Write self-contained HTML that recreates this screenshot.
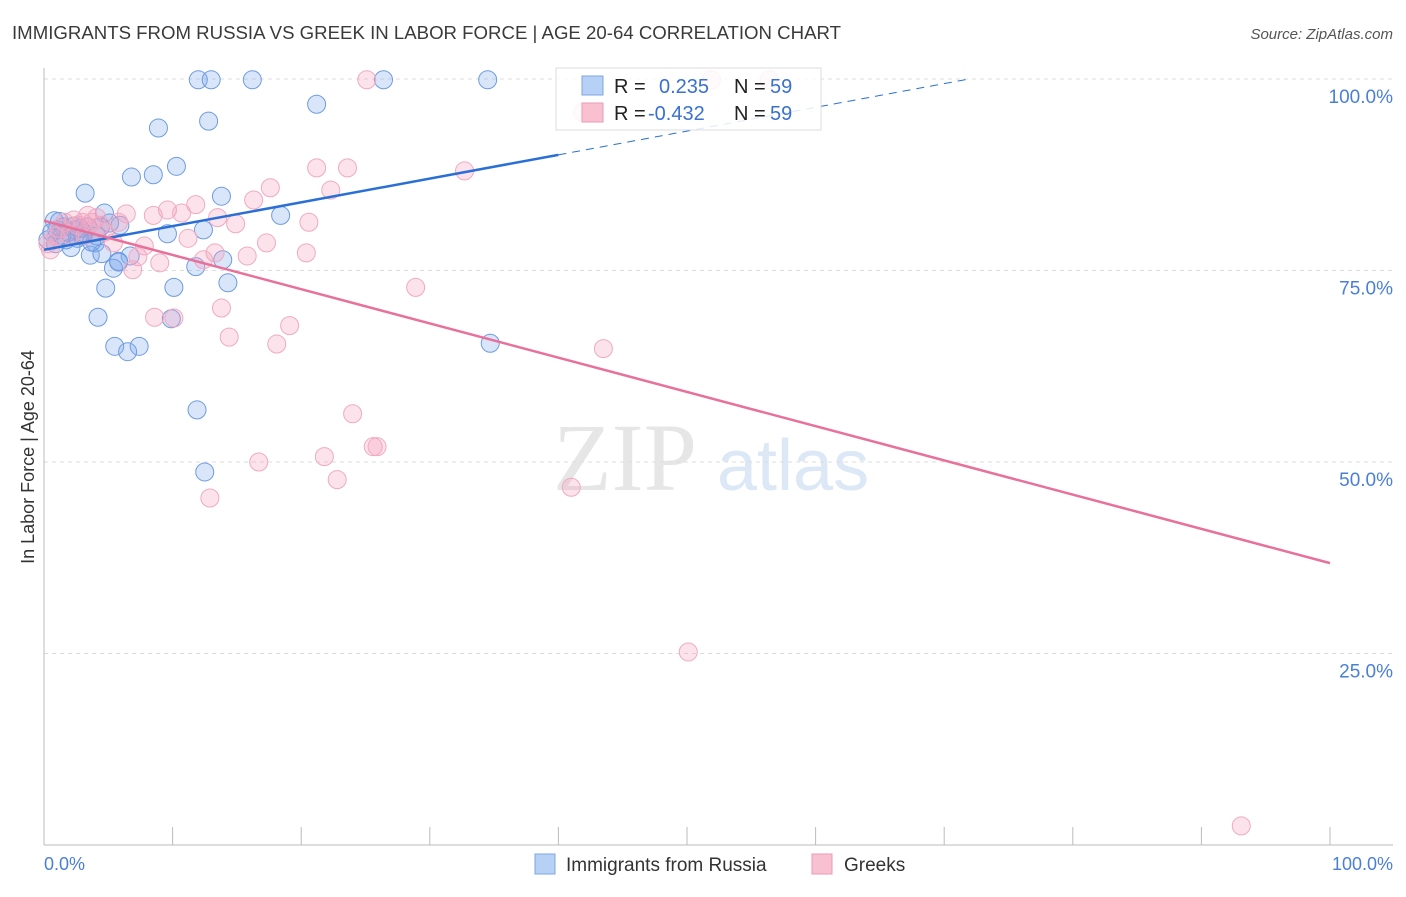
<!DOCTYPE html>
<html><head><meta charset="utf-8"><style>
body{margin:0;background:#fff;font-family:"Liberation Sans",sans-serif}
svg text{font-family:"Liberation Sans",sans-serif}
</style></head><body>
<svg id="chart" width="1406" height="892" viewBox="0 0 1406 892">
<text x="12" y="39" font-size="18" fill="#3a3a3a" textLength="829" lengthAdjust="spacingAndGlyphs">IMMIGRANTS FROM RUSSIA VS GREEK IN LABOR FORCE | AGE 20-64 CORRELATION CHART</text>
<text x="1393" y="39" font-size="15" fill="#555" text-anchor="end" font-style="italic">Source: ZipAtlas.com</text>
<g>
<text x="553" y="490" font-size="96" fill="#e6e6e6" font-family="Liberation Serif" style="font-family:'Liberation Serif',serif">ZIP</text>
<text x="717" y="490" font-size="72" fill="#dce8f6">atlas</text>
</g>
<g id="grid"></g>
<g id="axes"></g>
<g id="pts"></g>
<g id="trends"></g>
<text transform="translate(34,457) rotate(-90)" font-size="18" fill="#333" text-anchor="middle">In Labor Force | Age 20-64</text>
<text x="44" y="870" font-size="18" fill="#4a7fd8">0.0%</text>
<text x="1393" y="870" font-size="18" fill="#4a7fd8" text-anchor="end">100.0%</text>
<g>
<rect x="556" y="68" width="265" height="62" fill="#fff" fill-opacity="0.85" stroke="#ddd"/>
<rect x="582" y="76" width="21" height="19" fill="#b7d0f5" stroke="#7fa6e0"/>
<rect x="582" y="103" width="21" height="19" fill="#f8c0d0" stroke="#eb9ab4"/>
<text x="614" y="93" font-size="20" fill="#222">R =</text>
<text x="659" y="93" font-size="20" fill="#3a70d0">0.235</text>
<text x="734" y="93" font-size="20" fill="#222">N =</text>
<text x="770" y="93" font-size="20" fill="#3a70d0">59</text>
<text x="614" y="120" font-size="20" fill="#222">R =</text>
<text x="648" y="120" font-size="20" fill="#3a70d0">-0.432</text>
<text x="734" y="120" font-size="20" fill="#222">N =</text>
<text x="770" y="120" font-size="20" fill="#3a70d0">59</text>
</g>
<g>
<rect x="535" y="854" width="20" height="20" fill="#b7d0f5" stroke="#7fa6e0"/>
<text x="566" y="871" font-size="19" fill="#333">Immigrants from Russia</text>
<rect x="812" y="854" width="20" height="20" fill="#f8c0d0" stroke="#eb9ab4"/>
<text x="844" y="871" font-size="19" fill="#333">Greeks</text>
</g>
</svg>
<script>
const yTicks=[25,50,75,100];
const yTickLabels=["25.0%","50.0%","75.0%","100.0%"];
const xTicks=[0,10,20,30,40,50,60,70,80,90,100];
const russiaX=[12.0,13.0,16.2,26.4,34.5,21.2,12.8,8.9,10.3,8.5,6.8,3.2,13.8,18.4,4.7,0.8,5.1,1.5,2.4,4.4,9.6,12.4,3.0,4.0,2.1,3.6,4.5,6.7,5.8,5.4,11.8,13.9,14.3,10.1,4.8,4.2,9.9,5.5,7.4,6.5,34.7,11.9,12.5,0.3,1.0,1.7,2.6,1.2,0.6,3.4,2.3,1.9,5.8,3.7,3.1,0.9,1.4,2.8,4.1,5.9];
const russiaY=[99.9,99.9,99.9,99.9,99.9,96.7,94.5,93.6,88.6,87.5,87.2,85.1,84.7,82.2,82.5,81.5,81.2,80.7,80.3,80.7,79.8,80.3,79.5,78.6,78.0,77.0,77.2,76.9,76.2,75.3,75.5,76.4,73.4,72.8,72.7,68.9,68.7,65.1,65.1,64.4,65.5,56.8,48.7,79.0,80.3,79.0,79.2,81.4,80.0,80.7,80.8,80.0,76.1,78.7,79.9,78.5,79.6,80.5,79.5,80.9];
const greeksX=[25.1,51.9,56.4,41.9,21.2,23.6,32.7,17.6,22.3,16.3,11.8,9.6,10.7,6.4,8.5,13.5,20.6,14.9,2.3,3.4,4.4,5.8,1.2,13.3,11.2,17.3,7.8,5.4,20.4,15.8,9.0,7.3,6.9,12.4,28.9,13.8,8.6,10.1,19.1,14.4,18.1,43.5,24.0,25.6,25.9,16.7,21.8,22.8,41.0,12.9,50.1,93.1,0.3,0.9,1.6,2.6,3.7,4.7,0.5,3.2,2.0,3.0,4.1];
const greeksY=[99.9,99.9,99.9,95.6,88.4,88.4,88.0,85.8,85.5,84.2,83.6,82.9,82.5,82.4,82.2,81.9,81.3,81.1,81.6,82.2,80.9,81.3,80.5,77.3,79.2,78.6,78.2,78.6,77.3,76.9,76.0,76.8,75.1,76.4,72.8,70.1,68.9,68.8,67.8,66.3,65.4,64.8,56.3,52.0,52.0,50.0,50.7,47.7,46.7,45.3,25.2,2.5,78.5,79.5,81.3,80.9,81.3,80.0,77.7,79.6,79.6,81.3,81.9];
const russiaTrend=[77.7,0.31];
const greeksTrend=[81.5,-0.447];

const NS="http://www.w3.org/2000/svg";
const X=v=>44+v*12.86, Y=v=>845-v*7.66;
function mk(tag,attrs,parent){const e=document.createElementNS(NS,tag);for(const k in attrs)e.setAttribute(k,attrs[k]);parent.appendChild(e);return e;}
const grid=document.getElementById('grid'),axes=document.getElementById('axes'),pts=document.getElementById('pts'),tr=document.getElementById('trends');
yTicks.forEach((t,i)=>{
  const l=mk('line',{x1:44,x2:1393,y1:Y(t),y2:Y(t),stroke:'#ddd','stroke-dasharray':'4,4'},grid);
  
  
  const tx=mk('text',{x:1393,y:Y(t)+24,'font-size':19,fill:'#4a7fd8','text-anchor':'end'},grid);
  tx.textContent=yTickLabels[i];
  
  
});
const ya=mk('line',{x1:44,x2:44,y1:68,y2:845,stroke:'#bbb'},axes);


const xa=mk('line',{x1:44,x2:1393,y1:845,y2:845,stroke:'#bbb'},axes);


xTicks.forEach(t=>{
  const l=mk('line',{x1:X(t),x2:X(t),y1:827,y2:845,stroke:'#bbb'},axes);
  
  
});
russiaX.forEach((v,i)=>{
  const c=mk('circle',{cx:X(v),cy:Y(russiaY[i]),r:9,fill:'rgba(130,170,235,0.3)',stroke:'#6e9ce0','stroke-width':1},pts);
  
  
});
greeksX.forEach((v,i)=>{
  const c=mk('circle',{cx:X(v),cy:Y(greeksY[i]),r:9,fill:'rgba(245,160,188,0.3)',stroke:'#f0aac2','stroke-width':1},pts);
  
  
});
const rY=x=>russiaTrend[0]+russiaTrend[1]*x;
const xEnd=(100-russiaTrend[0])/russiaTrend[1];
const b1=mk('line',{x1:X(0),y1:Y(rY(0)),x2:X(40),y2:Y(rY(40)),stroke:'#2a6fd6','stroke-width':2.5},tr);


const b2=mk('line',{x1:X(40),y1:Y(rY(40)),x2:X(xEnd),y2:Y(100),stroke:'#2a6fd6','stroke-width':1,'stroke-dasharray':'8,6'},tr);


const gY=x=>greeksTrend[0]+greeksTrend[1]*x;
const p1=mk('line',{x1:X(0),y1:Y(gY(0)),x2:X(100),y2:Y(gY(100)),stroke:'#e8709a','stroke-width':2.5},tr);


</script>
</body></html>
